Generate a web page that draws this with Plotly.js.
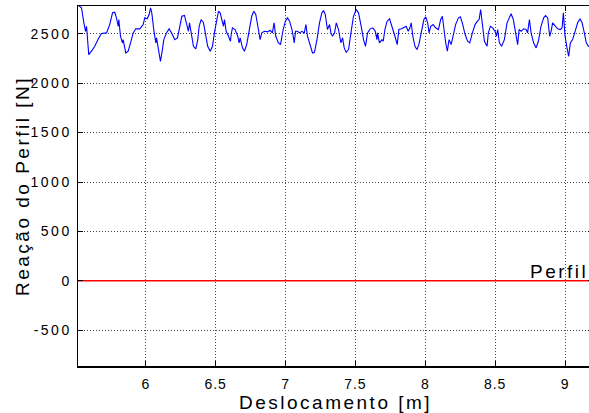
<!DOCTYPE html>
<html><head><meta charset="utf-8">
<script src="https://cdn.plot.ly/plotly-3.0.1.min.js"></script>
<style>
html,body{margin:0;padding:0;overflow:hidden;background:#fff}
#chart{width:600px;height:413px}
.ytick text{letter-spacing:2.5px}
.xtick text{letter-spacing:1px}
.annotation-text{letter-spacing:2.5px}
</style>
</head><body><div id="chart"></div>
<script>
var deslocamento = [5.515,5.540,5.557,5.569,5.576,5.588,5.592,5.619,5.635,5.660,5.683,5.719,5.742,5.762,5.778,5.790,5.803,5.807,5.819,5.833,5.838,5.857,5.874,5.891,5.910,5.928,5.957,5.981,5.993,6.010,6.024,6.034,6.043,6.057,6.072,6.077,6.089,6.105,6.119,6.129,6.148,6.167,6.184,6.207,6.227,6.234,6.258,6.277,6.293,6.305,6.313,6.325,6.341,6.358,6.372,6.382,6.396,6.413,6.425,6.443,6.461,6.477,6.491,6.508,6.520,6.532,6.544,6.556,6.563,6.575,6.592,6.606,6.611,6.620,6.639,6.658,6.668,6.675,6.692,6.706,6.722,6.740,6.758,6.773,6.787,6.806,6.818,6.830,6.849,6.873,6.890,6.906,6.918,6.930,6.949,6.964,6.983,6.999,7.014,7.029,7.046,7.057,7.062,7.072,7.086,7.100,7.117,7.134,7.146,7.157,7.177,7.193,7.207,7.225,7.243,7.260,7.272,7.284,7.300,7.315,7.325,7.336,7.351,7.363,7.379,7.396,7.408,7.420,7.434,7.451,7.468,7.486,7.506,7.522,7.539,7.558,7.572,7.587,7.606,7.625,7.642,7.654,7.658,7.672,7.690,7.699,7.711,7.727,7.744,7.763,7.783,7.799,7.811,7.830,7.847,7.863,7.878,7.890,7.899,7.911,7.926,7.940,7.954,7.973,7.990,8.003,8.017,8.027,8.039,8.056,8.074,8.094,8.110,8.122,8.134,8.146,8.158,8.170,8.185,8.199,8.217,8.237,8.251,8.265,8.285,8.303,8.318,8.337,8.356,8.373,8.385,8.396,8.408,8.423,8.442,8.451,8.466,8.482,8.499,8.509,8.518,8.530,8.546,8.566,8.585,8.602,8.614,8.630,8.649,8.661,8.671,8.685,8.704,8.721,8.732,8.745,8.757,8.775,8.793,8.809,8.828,8.847,8.861,8.876,8.890,8.900,8.911,8.928,8.947,8.966,8.979,8.988,9.000,9.014,9.026,9.038,9.054,9.072,9.090,9.107,9.122,9.138,9.152,9.167,9.195];
var reacao = [2790,2763,2611,2525,2576,2408,2289,2340,2373,2448,2502,2509,2593,2712,2718,2661,2576,2644,2475,2408,2441,2306,2323,2408,2509,2550,2550,2593,2661,2651,2695,2763,2712,2543,2408,2458,2373,2221,2340,2441,2509,2550,2509,2441,2458,2509,2677,2685,2593,2525,2611,2509,2373,2347,2441,2576,2644,2611,2509,2373,2323,2373,2509,2661,2728,2712,2644,2576,2644,2525,2475,2424,2492,2560,2543,2475,2408,2458,2357,2323,2390,2525,2677,2728,2695,2543,2441,2509,2525,2519,2535,2509,2611,2475,2408,2390,2543,2627,2661,2627,2543,2458,2408,2525,2525,2509,2525,2509,2593,2475,2373,2306,2312,2441,2611,2712,2735,2695,2543,2593,2509,2475,2509,2611,2543,2408,2458,2357,2312,2340,2509,2677,2745,2712,2593,2441,2373,2509,2550,2560,2525,2441,2509,2408,2441,2424,2543,2627,2651,2576,2475,2390,2543,2550,2560,2576,2525,2560,2611,2475,2373,2340,2390,2543,2644,2671,2611,2509,2576,2593,2560,2543,2644,2677,2525,2408,2323,2441,2390,2475,2593,2661,2671,2611,2492,2424,2408,2509,2593,2627,2644,2745,2576,2424,2373,2509,2576,2560,2525,2475,2543,2408,2373,2441,2611,2677,2702,2644,2475,2390,2543,2525,2550,2543,2509,2644,2509,2408,2357,2424,2576,2661,2685,2661,2475,2525,2611,2576,2550,2543,2560,2712,2475,2357,2272,2408,2441,2525,2611,2651,2611,2509,2408,2373,2380];
var perfilX = [5.515, 9.2];
var perfilY = [0, 0];
var yTicks = [-500, 0, 500, 1000, 1500, 2000, 2500];
var xTicks = [6, 6.5, 7, 7.5, 8, 8.5, 9];

var fontFam = '"Liberation Sans", Arial, sans-serif';
var traces = [
  {x: deslocamento, y: reacao, mode: 'lines', line: {color: '#0000ff', width: 1.1}, hoverinfo: 'skip'},
  {x: perfilX, y: perfilY, mode: 'lines', line: {color: '#ff0000', width: 1.5}, hoverinfo: 'skip'}
];
var axisCommon = {
  showline: true, linecolor: '#000', linewidth: 1.5, mirror: 'ticks',
  ticks: 'inside', ticklen: 5, tickcolor: '#000', tickwidth: 1,
  showgrid: true, gridcolor: '#444', griddash: '1px,2px', gridwidth: 1,
  zeroline: false, tickfont: {family: fontFam, size: 14, color: '#000'}
};
var titleFont = {family: fontFam, size: 19, color: '#000'};
var layout = {
  width: 600, height: 413,
  margin: {l: 78, r: 7, t: 6, b: 47},
  paper_bgcolor: '#fff', plot_bgcolor: '#fff',
  showlegend: false,
  font: {family: fontFam, color: '#000'},
  xaxis: Object.assign({}, axisCommon, {
    range: [5.515, 9.2], tickvals: xTicks, ticktext: xTicks.map(String),
    ticklabelstandoff: 5
  }),
  yaxis: Object.assign({}, axisCommon, {
    range: [-862, 2781], tickvals: yTicks, ticktext: yTicks.map(String),
    ticklabelstandoff: 2
  }),
  annotations: [
    {x: 8.96, y: 0, xref: 'x', yref: 'y', xanchor: 'center', yanchor: 'bottom',
     text: 'Perfil', showarrow: false, font: titleFont, yshift: -3},
    {x: 0.5, y: -0.1013, xref: 'paper', yref: 'paper', xanchor: 'center', yanchor: 'middle',
     text: 'Deslocamento [m]', showarrow: false, font: titleFont},
    {x: -0.1087, y: 0.5, xref: 'paper', yref: 'paper', xanchor: 'center', yanchor: 'middle',
     text: 'Reação do Perfil [N]', textangle: -90, showarrow: false, font: titleFont}
  ]
};
Plotly.newPlot('chart', traces, layout, {staticPlot: true, displayModeBar: false});
</script></body></html>
